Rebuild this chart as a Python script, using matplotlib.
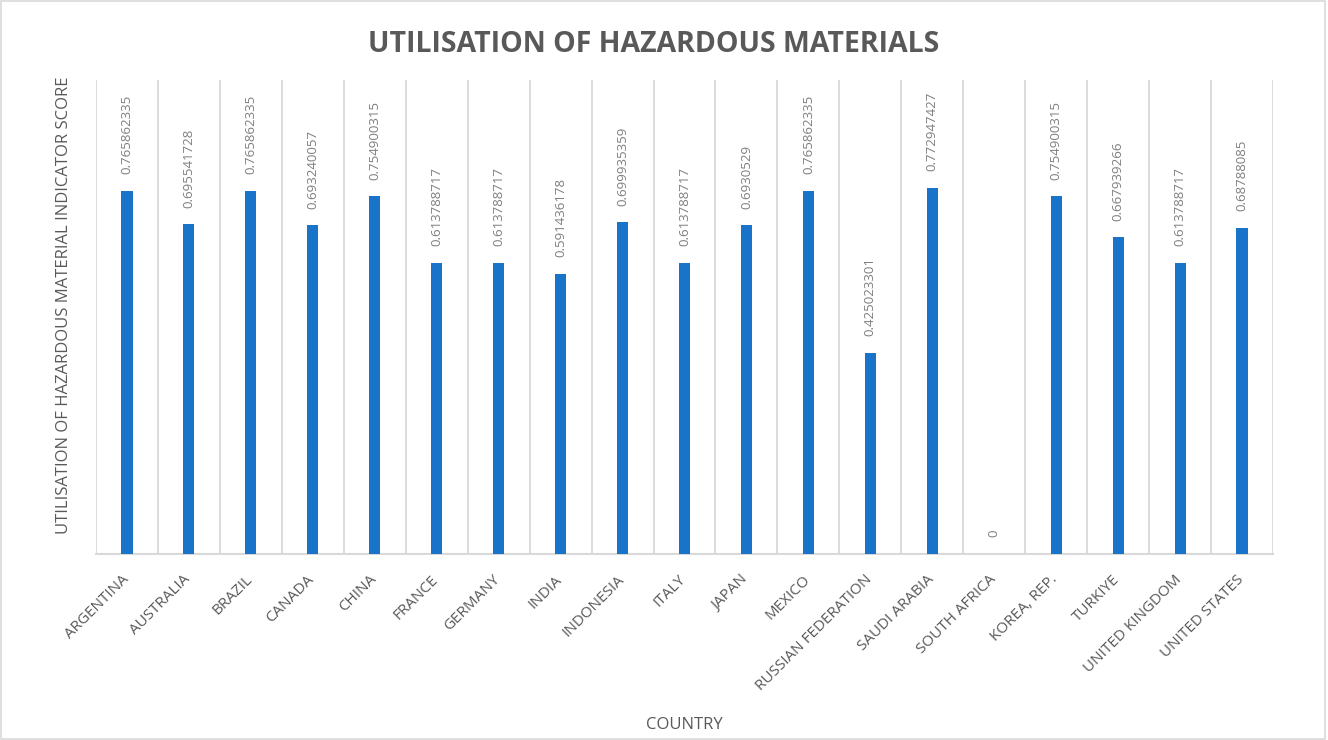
import matplotlib
matplotlib.use("Agg")
import matplotlib.pyplot as plt
from matplotlib.patches import Rectangle
from matplotlib.transforms import ScaledTranslation

countries = ["ARGENTINA", "AUSTRALIA", "BRAZIL", "CANADA", "CHINA", "FRANCE",
             "GERMANY", "INDIA", "INDONESIA", "ITALY", "JAPAN", "MEXICO",
             "RUSSIAN FEDERATION", "SAUDI ARABIA", "SOUTH AFRICA", "KOREA, REP.",
             "TURKIYE", "UNITED KINGDOM", "UNITED STATES"]
values = [0.765862335, 0.695541728, 0.765862335, 0.693240057, 0.754900315,
          0.613788717, 0.613788717, 0.591436178, 0.699935359, 0.613788717,
          0.6930529, 0.765862335, 0.425023301, 0.772947427, 0,
          0.754900315, 0.667939266, 0.613788717, 0.68788085]
value_labels = ["0.765862335", "0.695541728", "0.765862335", "0.693240057",
                "0.754900315", "0.613788717", "0.613788717", "0.591436178",
                "0.699935359", "0.613788717", "0.6930529", "0.765862335",
                "0.425023301", "0.772947427", "0", "0.754900315",
                "0.667939266", "0.613788717", "0.68788085"]

title = "UTILISATION OF HAZARDOUS MATERIALS"
ylabel = "UTILISATION OF HAZARDOUS MATERIAL INDICATOR SCORE"
xlabel = "COUNTRY"

plt.rcParams['font.family'] = ['Open Sans', 'DejaVu Sans']

fig = plt.figure(figsize=(13.28, 7.4), dpi=100)
fig.patches.append(Rectangle((0.001, 0.001), 0.997, 0.997, transform=fig.transFigure,
                             fill=False, edgecolor='#D9D9D9', linewidth=1.2))
ax = fig.add_axes([96/1328, 1-554/740, (1273-96)/1328, (554-80)/740])

x = list(range(len(countries)))
ax.bar(x, values, width=0.18, color='#1873C9', zorder=3)

ax.set_xlim(-0.5, len(countries) - 0.5)
ax.set_ylim(0, 1)

for b in [i - 0.5 for i in range(len(countries) + 1)]:
    ax.axvline(b, color='#D9D9D9', linewidth=1.3, zorder=1)

for xi, v, lab in zip(x, values, value_labels):
    ax.annotate(lab, (xi, v), xytext=(0, 12), textcoords='offset points',
                rotation=90, ha='center', va='bottom', fontsize=9.5,
                color='#7F7F7F')

for s in ['top', 'right', 'left']:
    ax.spines[s].set_visible(False)
ax.spines['bottom'].set_color('#D9D9D9')
ax.spines['bottom'].set_linewidth(1.5)
ax.set_yticks([])
ax.set_xticks(x)
ax.set_xticklabels(countries, rotation=45, ha='right', rotation_mode='anchor',
                   fontsize=11, color='#595959')
ax.tick_params(axis='x', length=0, pad=13)
shift = ScaledTranslation(-6/100, 0, fig.dpi_scale_trans)
for lbl in ax.get_xticklabels():
    lbl.set_transform(lbl.get_transform() + shift)

ax.set_ylabel(ylabel, fontsize=12, color='#595959')
ax.yaxis.set_label_coords(-0.02, 0.525)
fig.text(684/1328, 1-725/740, xlabel, ha='center', va='center', fontsize=12,
         color='#595959')
fig.text(654/1328, 1-45/740, title, ha='center', va='center', fontsize=20.5,
         fontweight='bold', color='#595959')

fig.savefig('out.png', dpi=100, facecolor='white')
